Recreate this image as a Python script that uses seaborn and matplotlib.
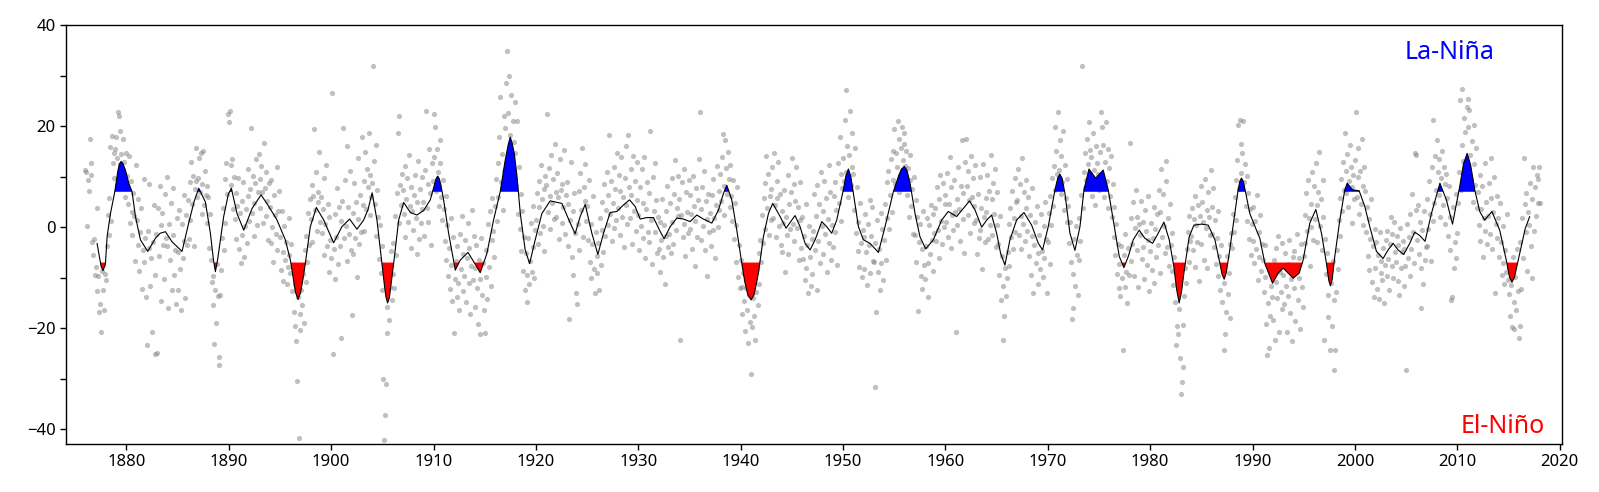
import numpy as np
import pandas as pd
import matplotlib
matplotlib.use('Agg')
import matplotlib.pyplot as plt
import seaborn as sns
from matplotlib.ticker import MultipleLocator

sns.set_style('ticks')
plt.rcParams['font.family'] = ['Noto Sans', 'DejaVu Sans']

# ---------------- data ----------------
START_YEAR = 1876          # monthly values start January 1876
THRESHOLD = 7

soi_1876_1889 = [
    11.3, 11.0, 0.2, 9.3, 7.2, 17.4, 12.6, 10.4, -3.0, -5.6, -2.4, -9.5,
    -7.8, 3.7, -12.6, -9.6, -16.8, -15.2, -20.8, -8.7, -12.4, -7.5, -16.3, -9.2,
    -10.5, -3.8, 2.5, -1.5, 5.8, 15.9, 1.2, 18.0, 12.6, 14.6, 9.8, 15.4,
    17.8, 13.6, 22.7, 21.9, 19.0, 12.5, 14.4, 8.2, 17.5, 12.8, 5.9, 14.6,
    7.8, 10.2, 4.5, 14.0, 0.9, 9.1, 3.0, -1.5, 6.8, 2.2, -6.7, 12.3,
    1.4, -3.5, 5.5, -8.7, -1.0, 3.8, -12.3, -4.6, 9.6, -6.9, -2.2, -13.8,
    -23.4, -0.8, -4.2, 8.6, -11.6, -6.2, -20.8, -2.9, 4.4, -25.0, -9.5, -1.3,
    -24.8, 3.7, -5.8, 8.1, 0.4, -14.7, 2.9, -3.6, -10.2, 6.5, -2.1, 9.9,
    -3.8, -16.0, 0.6, -6.4, 4.8, -12.4, -1.5, 7.8, -9.4, -4.6, -15.2, 1.9,
    -12.5, -4.9, 3.4, -8.2, -16.3, 0.7, -6.1, 6.3, -2.8, -14.0, 2.5, -3.6,
    5.3, -2.4, 8.9, 1.4, 12.8, 4.6, 10.1, -3.8, 7.5, 15.7, 9.2, 6.0,
    9.8, 13.7, 7.0, 14.6, 2.7, 8.5, 15.0, 4.4, 11.2, 6.3, 0.8, 8.1,
    5.9, -4.2, 2.6, -6.5, -10.8, -15.5, -9.7, -23.1, -12.4, -18.9, -7.3, -13.6,
    -25.6, -27.3, -13.5, -8.4, -2.1, 3.8, -4.6, 9.5, 0.9, 12.7, 6.5, 22.3,
]
soi_1890s = [
    20.9, 23.0, 12.2, 8.4, 13.5, 3.5, 10.0, 1.6, 6.8, -2.4, 4.2, 9.7,
    -4.3, 2.8, -7.0, 5.1, -1.6, 8.9, -5.9, 0.2, 3.6, -3.1, 11.5, 6.2,
    1.2, 7.5, 19.7, 2.9, 10.2, 4.8, -1.8, 8.7, 13.5, 0.5, 6.9, 14.5,
    9.6, 3.8, 12.1, 6.9, 0.8, 16.6, 7.7, 2.3, 11.0, 5.1, -2.5, 8.8,
    4.0, -3.2, 9.3, 0.1, -6.8, 6.4, 2.5, -1.4, 12.0, -4.6, 3.1, 7.2,
    -1.9, -8.4, 3.2, -4.9, -10.6, 0.3, -6.5, -3.0, -11.2, -7.8, 1.8, -5.5,
    -9.1, -3.3, -12.6, -7.4, -16.8, -11.2, -19.6, -22.5, -30.4, -13.8, -41.8, -17.1,
    -20.3, -12.5, -15.4, -9.3, -19.0, -4.6, -10.8, -1.7, -6.9, 2.8, -3.5, 5.5,
    1.6, 8.3, -2.9, 6.2, 19.4, 3.3, 11.0, -0.8, 7.0, 4.9, 14.8, 1.1,
    6.0, -1.2, 3.5, 9.8, -5.6, 0.7, 12.3, -3.7, 4.5, -8.9, 2.0, -2.6,
]
soi_1900s = [
    -6.1, 26.5, -25.0, -4.3, 2.6, -10.2, -1.9, 7.7, -7.2, 4.0, -3.8, 1.3,
    -22.0, 5.2, 19.7, -2.1, 9.4, 0.3, -6.7, 16.1, 3.9, -1.4, 11.2, -4.5,
    -17.4, 2.8, -5.3, 8.7, -2.2, 5.0, -9.8, 1.6, 13.7, -3.4, 6.4, -1.0,
    17.9, 4.3, 9.1, -0.7, 14.8, 3.6, 11.5, 7.9, 18.6, 2.4, 10.3, 6.0,
    8.8, 31.9, 13.1, 4.5, 16.2, -1.8, 7.4, 2.0, -6.3, 0.4, -9.1, -3.7,
    -12.5, -30.0, -42.2, -37.2, -31.0, -20.9, -15.8, -8.6, -18.3, -11.9, -4.7, -14.4,
    -9.2, -3.1, -12.0, 2.2, -5.6, 6.8, 18.6, 0.9, 22.0, 8.3, 4.4, 10.5,
    7.3, 2.6, 12.1, -1.9, 5.5, 9.8, 1.0, 14.3, 4.1, -4.2, 8.0, 3.2,
    -0.5, 6.3, 10.4, 1.8, -5.4, 4.9, 13.0, -2.3, 7.6, 0.8, 9.9, 3.5,
    5.0, -1.7, 11.3, 23.0, 3.8, 8.6, 1.1, 15.4, 6.7, -3.5, 12.7, 9.2,
]
soi_1910s = [
    13.8, 22.3, 19.8, 7.1, 15.5, 10.9, 4.2, 12.6, 17.3, 6.0, 1.4, 9.4,
    3.6, -2.8, 6.1, -6.4, 0.5, -9.7, -4.1, -12.3, 1.9, -7.5, -14.6, -2.0,
    -20.9, -10.2, -6.6, -13.8, -3.7, -11.1, -16.4, -1.4, -8.2, 2.3, -12.7, -5.4,
    -9.6, -2.5, -14.8, -6.1, 0.9, -11.0, -4.2, -17.2, -7.7, 3.4, -10.4, -1.8,
    -8.0, -15.7, -3.6, -12.0, -19.1, -6.4, -10.3, -21.2, -2.2, -13.5, -7.1, -16.3,
    -21.0, -9.9, -4.5, -14.2, 0.6, -7.8, 3.2, -11.6, -2.6, 5.7, -0.8, -5.9,
    4.1, 9.6, 1.3, 12.7, 6.0, 17.8, 25.7, 8.9, 14.5, 3.3, 11.2, 21.9,
    19.6, 28.5, 34.9, 22.6, 15.3, 30.0, 18.2, 26.1, 13.4, 21.0, 16.9, 24.8,
    14.6, 8.1, 21.0, 2.7, 11.9, -0.3, 6.5, -4.8, 3.1, -8.6, -1.9, -12.4,
    -5.1, -14.9, -9.4, -2.2, -11.3, -6.7, 0.8, -8.8, -3.9, 4.1, -10.1, -0.6,
]
soi_1920s = [
    1.4, 6.8, -3.4, 9.2, 3.9, -1.1, 12.3, 5.5, 0.2, 7.6, -4.8, 10.1,
    8.4, 22.3, 3.0, 11.7, 6.1, -0.4, 14.2, 4.7, 9.5, 1.6, 16.5, 7.0,
    2.1, 10.8, 5.9, -2.4, 13.4, 7.3, 0.9, 8.5, 4.0, 15.2, -1.3, 6.4,
    9.0, -3.8, 4.6, -18.2, 1.5, 12.9, -6.0, 3.1, -9.4, 6.7, -1.2, -13.1,
    -15.2, 0.7, 7.1, -4.5, 10.8, 3.4, 15.6, -1.9, 8.0, 5.2, 12.4, 1.3,
    4.2, -2.6, 9.3, -6.8, 0.6, -10.1, -3.4, 6.1, -8.2, -13.0, -0.9, -5.7,
    -9.0, -3.2, -12.5, 1.9, -7.4, -0.6, 5.0, -4.9, 8.6, -1.8, 3.3, 10.9,
    6.3, 0.4, 18.2, 2.6, 9.1, -2.8, 4.7, 12.0, -0.2, 7.5, 1.4, 14.6,
    3.8, 10.4, -1.5, 7.2, 13.9, 2.1, 5.9, -4.0, 9.7, 16.1, 4.4, 0.6,
    18.2, 8.0, 1.9, 11.5, 6.4, -3.3, 14.0, 3.1, 9.2, -0.7, 12.8, 5.3,
]
soi_1930s = [
    2.4, -4.6, 7.9, 0.3, 11.6, -2.1, 4.8, 13.8, -6.2, 3.6, 9.0, -1.0,
    6.8, -3.0, 19.0, 1.5, -7.3, 9.9, 3.2, -0.9, 12.7, 5.4, -5.1, 2.0,
    -4.4, 1.1, -8.9, -2.6, 5.5, -6.0, 0.4, -11.2, 3.2, -1.7, 8.1, -3.9,
    -1.3, 4.7, -5.2, 9.8, 1.0, -3.4, 6.5, 13.2, -0.5, 3.8, 10.1, 2.2,
    5.5, -22.3, 2.4, 8.9, -2.0, 11.6, 0.6, -5.8, 6.9, 3.0, -1.1, 9.4,
    -0.3, 6.4, 2.7, -4.3, 10.2, 4.1, -7.7, 1.3, 7.8, -1.9, 5.3, 13.4,
    22.7, 3.6, -2.6, 8.0, 0.2, 11.2, -4.6, 5.1, 1.7, -9.6, 6.6, -0.9,
    2.9, -3.7, 6.3, -0.5, 9.5, 1.8, -6.2, 4.4, 12.1, 0.0, 7.1, 3.3,
    10.6, 5.2, 13.9, 18.4, 8.1, 2.4, 17.3, 11.7, 6.5, 14.8, 9.6, 3.9,
    12.2, 6.1, 1.2, 9.4, -2.3, 4.7, -6.9, 0.5, 8.0, -9.8, -3.6, -12.0,
]
soi_1940s = [
    -6.4, -11.8, -17.2, -9.0, -14.6, -20.5, -12.1, -16.3, -8.3, -23.0, -13.5, -18.8,
    -29.0, -19.8, -14.1, -10.7, -17.6, -22.4, -12.8, -8.2, -15.5, -5.1, -11.3, -2.6,
    -6.9, 2.4, -3.1, 5.8, -0.4, 8.7, 14.0, 3.7, 10.6, -1.6, 6.2, 1.5,
    7.6, 11.9, 1.8, 14.6, 4.4, -2.0, 9.1, 5.7, 12.8, 0.3, 6.6, -3.6,
    3.2, -4.9, 0.8, 7.4, -8.8, 2.1, -1.6, 10.3, -5.3, 4.6, -0.4, 6.9,
    13.6, 0.7, 8.5, -2.8, 5.2, 11.9, -0.1, 3.9, -6.5, 9.0, 1.4, -4.2,
    2.0, -6.3, -1.7, -10.4, 4.5, -8.0, -3.5, -13.1, 0.2, -5.9, -11.6, -2.4,
    -9.2, -0.8, 6.6, -4.6, 2.3, -12.5, 8.4, -2.7, 4.5, -7.1, 11.0, 0.3,
    3.1, -5.3, 9.2, -1.4, 5.7, -8.9, 1.6, 12.3, -3.2, 7.0, -6.4, 0.4,
    -4.0, 6.2, -1.0, 9.0, 3.4, -7.5, 12.7, 4.8, 17.9, 1.2, 10.5, 7.8,
]
soi_1950s = [
    13.6, 9.2, 21.3, 27.1, 11.0, 16.0, 5.9, 14.3, 23.0, 8.4, 18.7, 12.0,
    10.5, 3.4, 15.6, -1.2, 7.9, -4.8, 1.0, -7.9, 4.8, -3.1, -9.8, -0.5,
    -2.0, -8.2, 2.6, -5.0, -11.4, 0.7, -3.5, 5.3, -9.1, -1.8, 4.0, -6.6,
    -6.9, -31.7, -3.2, -16.8, 1.4, -8.8, -4.4, -12.5, 2.9, -7.0, -0.3, -10.5,
    -2.6, 4.6, -6.5, 8.9, 1.8, 11.2, -0.4, 6.3, 13.5, 3.0, 9.4, 15.0,
    19.4, 8.6, 14.7, 12.0, 21.0, 6.9, 17.5, 10.4, 15.7, 19.8, 13.3, 16.4,
    18.6, 12.1, 15.0, 6.4, 11.8, 2.0, 9.3, 14.2, 4.1, 7.6, -1.3, 10.0,
    -1.5, 5.3, -6.8, 2.0, -16.6, -3.0, 0.6, -9.7, -4.3, -12.2, 3.2, -7.5,
    -10.3, -3.8, 1.9, -7.0, -13.9, 0.5, -5.4, 4.4, -2.5, -8.6, 2.7, -1.1,
    3.7, -2.8, 7.9, -0.5, 5.5, -6.1, 10.4, 1.2, -3.4, 8.8, 0.0, 4.6,
]
soi_1960s = [
    6.3, 1.0, 10.7, -1.9, 4.6, 13.8, -4.2, 7.9, 2.5, -0.6, 9.4, 3.0,
    -20.7, 5.6, 0.4, 11.9, 3.5, -2.7, 8.2, 17.3, 1.7, 6.7, -5.2, 12.9,
    17.4, 8.2, 2.4, 11.1, 5.3, -1.2, 14.0, 6.0, 9.7, 0.8, 4.2, 12.3,
    1.5, -5.4, 6.6, -2.2, 9.9, -0.6, 3.7, -8.3, 12.5, 2.0, -3.0, 5.7,
    3.0, 10.4, -2.4, 7.1, 0.4, 14.3, 5.6, -1.6, 8.8, 2.7, 11.6, -4.0,
    0.5, 6.9, -3.3, -9.4, 2.2, -14.5, -5.8, -11.6, -22.3, -17.5, -8.0, -13.6,
    -10.1, -5.0, 0.6, -7.7, 3.8, -2.0, 7.1, -4.3, 1.9, 9.7, -0.9, 4.9,
    5.3, 11.5, -1.6, 8.5, 2.3, -4.4, 13.6, 0.6, 6.9, -2.8, 3.8, 9.3,
    -0.8, 5.9, -5.8, 2.5, -9.4, -1.7, 7.8, -13.1, -3.6, 1.1, -7.0, 4.2,
    -5.2, -11.3, -1.5, -8.2, 2.6, -4.8, -9.9, 0.3, -6.1, 4.9, -2.4, -13.0,
]
soi_1970s = [
    -3.0, 2.8, -7.2, 6.1, 0.4, 9.8, 4.2, 12.1, 19.9, 7.3, 15.0, 10.6,
    22.7, 11.4, 17.3, 6.5, 14.0, 8.9, 19.0, 3.4, 12.2, 5.8, 9.6, 1.1,
    4.2, -3.1, 1.0, -6.8, -18.2, -15.9, -9.3, -2.3, -11.7, 0.2, -5.5, -13.4,
    -6.4, 1.9, -2.8, 6.3, 31.9, 3.7, 11.0, 7.8, 14.6, 9.3, 17.5, 12.4,
    20.9, 15.2, 9.8, 13.9, 6.2, 18.6, 11.3, 4.3, 16.0, 8.1, 12.6, 10.5,
    7.4, 14.8, 22.7, 19.8, 10.1, 16.3, 6.0, 12.9, 20.8, 9.2, 15.5, 3.8,
    11.7, 6.1, 14.0, 2.1, 8.6, -1.9, 4.0, -5.5, 0.6, -9.2, -3.4, -12.0,
    -7.3, -13.6, -3.7, -10.1, -24.3, -5.6, -11.9, -1.4, -8.8, -15.0, -4.2, -9.5,
    16.6, -6.7, 1.8, -3.4, 4.9, -9.6, -0.2, 7.4, -4.6, 2.1, -11.8, 0.7,
    -1.5, 5.1, -6.3, 1.0, -3.9, -10.2, 3.3, -0.8, -7.4, 6.2, -2.6, -12.6,
]
soi_1980s = [
    -4.7, 0.9, -8.5, -2.1, 4.0, -11.0, -0.3, -6.0, 2.7, -3.5, 7.3, -9.1,
    3.0, 11.5, -2.0, 6.6, 0.2, -5.1, 9.2, 13.0, -3.9, 1.9, -7.6, 4.6,
    -3.6, -8.7, -1.2, -11.4, -6.0, -14.9, -23.3, -19.5, -10.0, -21.1, -16.2, -25.8,
    -33.0, -30.6, -27.6, -19.3, -13.6, -8.0, -11.1, -4.3, -0.9, -6.9, 2.3, -2.7,
    -1.8, 3.8, -4.6, 1.6, -7.9, 6.2, 0.5, -2.9, 4.3, -10.6, 2.2, 8.1,
    -3.3, 5.0, 1.1, -6.4, 9.6, -0.2, 3.4, -8.1, 6.9, 2.1, -1.5, 11.4,
    4.0, -1.3, 7.8, -4.0, 1.4, -7.3, -2.2, -9.7, 3.1, -5.8, -12.4, -3.6,
    -14.9, -7.5, -24.3, -11.1, -21.2, -16.8, -5.7, -13.2, -9.0, -3.3, -18.0, -1.1,
    -4.2, 2.7, -0.9, 6.0, 1.5, 9.4, 13.2, 20.3, 7.6, 21.3, 16.4, 10.8,
    14.7, 21.0, 8.9, 12.4, 4.2, 10.1, 1.3, 6.8, -2.4, 3.5, -5.6, 0.7,
]
soi_1990s = [
    -2.8, 3.9, -7.1, 1.2, -4.3, 6.4, -10.5, -1.0, -5.9, 2.5, -8.6, -3.3,
    -6.4, -12.8, -3.6, -9.9, -19.1, -25.3, -15.0, -24.0, -8.1, -17.5, -11.6, -13.9,
    -18.3, -6.5, -22.4, -10.8, -4.2, -14.0, -1.7, -20.8, -8.8, -12.9, -3.1, -16.1,
    -9.5, -15.3, -5.2, -11.7, -20.8, -7.2, -13.6, -2.5, -17.0, -10.3, -22.6, -6.0,
    -12.1, -4.7, -18.6, -8.3, -1.4, -14.4, -10.0, -6.2, -20.1, -3.3, -11.8, -15.7,
    -5.8, 2.4, -3.1, 6.7, -0.7, 9.3, 1.9, -7.6, 4.6, 0.1, 11.0, -2.5,
    8.1, 1.6, 12.6, 4.3, -2.9, 7.0, 14.8, 0.3, 5.5, -4.6, 9.4, 2.0,
    -22.3, -2.4, -9.2, -5.1, -13.4, -17.8, -8.0, -24.3, -11.0, -19.6, -6.7, -14.5,
    -28.2, -24.3, -12.9, -4.6, -8.3, 1.5, -1.7, 5.8, 9.6, 3.1, 12.9, 7.3,
    18.6, 11.2, 6.7, 14.5, 3.9, 9.1, 16.3, 12.0, 0.9, 7.9, 10.4, 5.6,
]
soi_2000s = [
    13.3, 22.7, 6.0, 9.9, 15.6, 2.7, 11.1, 4.6, 17.4, 8.2, 0.4, 12.0,
    7.2, -1.0, 3.9, -5.7, 1.6, -8.4, -2.3, 5.5, -10.9, -3.7, -13.8, -0.4,
    -8.1, -2.9, -12.2, -5.6, -14.3, -1.0, -9.0, -6.7, -10.5, -4.1, -15.1, -7.4,
    -2.5, -9.6, -0.8, -6.3, -12.4, -3.4, 2.0, -7.7, -1.3, -10.0, 1.1, -4.9,
    -6.8, -1.7, -10.6, -3.5, -13.4, -0.2, -8.1, -5.0, -2.7, -11.7, -4.4, -7.6,
    -28.3, 0.7, -6.1, -2.0, -9.7, 2.6, -4.3, 6.5, -0.9, -7.0, 14.7, 3.3,
    14.2, -2.6, 4.4, -5.4, 1.0, -15.9, -8.0, -0.5, -11.2, 3.2, -6.5, -3.9,
    -3.7, 5.6, -0.3, 9.2, 2.6, -6.7, 11.9, 1.3, 21.3, 4.7, 14.0, 7.4,
    17.2, 11.0, 6.3, 13.4, 2.1, 9.8, 15.1, 4.4, 12.0, 8.5, 0.6, 10.6,
    5.8, -1.7, 8.2, 2.1, -4.6, -14.4, -13.8, 3.9, -8.0, -2.9, 6.6, -6.2,
]
soi_2010_2018 = [
    -1.2, 4.7, 10.9, 25.2, 7.4, 16.3, 27.3, 13.1, 21.5, 18.8, 11.6, 23.8,
    25.4, 19.8, 23.1, 14.2, 9.5, 17.0, 5.0, 12.5, 20.2, 8.3, 15.6, 3.7,
    6.9, 0.5, 10.4, -2.8, 3.6, 8.1, -6.0, 1.8, 12.7, -0.8, 4.9, -3.4,
    2.2, 8.8, -1.4, 5.7, 13.6, -4.4, 3.0, 9.9, -13.1, 0.6, 6.1, -2.1,
    1.8, -5.9, 4.7, -3.0, -9.4, 0.2, -7.1, -11.2, -4.6, -8.8, 2.6, -10.5,
    -13.2, -8.1, -17.5, -11.4, -19.7, -6.0, -14.9, -20.1, -9.8, -16.3, -4.4, -12.6,
    -21.9, -19.6, -2.9, -12.3, 1.9, -6.2, 13.6, 4.5, -1.0, 6.8, -8.7, 3.0,
    0.4, 8.7, -3.8, -10.0, 5.6, 12.0, -0.7, 7.9, 2.3, 10.3, 4.8, 9.5,
    12.0, 4.8,
]

# smoothed (low-pass) curve
smooth_years = [
    1877.13, 1877.53, 1877.72, 1877.95, 1878.11, 1878.44, 1878.86, 1879.15, 1879.3, 1879.48,
    1879.65, 1879.9, 1880.23, 1880.55, 1880.88, 1881.37, 1882.08, 1882.83, 1883.3, 1883.81,
    1884.46, 1885.43, 1886.08, 1886.6, 1887.06, 1887.71, 1888.2, 1888.5, 1888.69, 1888.9,
    1889.5, 1889.95, 1890.25, 1890.8, 1891.46, 1892.27, 1893.15, 1893.9, 1894.71, 1895.52,
    1896.01, 1896.25, 1896.5, 1896.76, 1897.0, 1897.25, 1897.48, 1897.96, 1898.55, 1899.27,
    1900.24, 1901.05, 1901.8, 1902.52, 1903.17, 1903.6, 1904.0, 1904.47, 1904.96, 1905.2,
    1905.35, 1905.51, 1905.68, 1905.9, 1906.1, 1906.59, 1907.08, 1907.73, 1908.38, 1909.03,
    1909.68, 1910.1, 1910.25, 1910.4, 1910.55, 1910.7, 1910.98, 1911.47, 1912.12, 1912.61,
    1913.36, 1913.91, 1914.56, 1915.21, 1915.86, 1916.51, 1917.0, 1917.3, 1917.49, 1917.68,
    1917.88, 1918.14, 1918.47, 1918.95, 1919.38, 1919.93, 1920.58, 1921.39, 1922.53, 1923.35,
    1923.83, 1924.32, 1924.81, 1925.46, 1926.05, 1926.6, 1927.25, 1927.9, 1928.55, 1929.14,
    1929.69, 1930.18, 1930.83, 1931.48, 1932.07, 1932.52, 1933.11, 1933.76, 1934.41, 1935.06,
    1935.71, 1936.36, 1937.18, 1937.83, 1938.32, 1938.64, 1939.13, 1939.62, 1940.11, 1940.4,
    1940.7, 1941.02, 1941.3, 1941.55, 1941.73, 1942.22, 1942.71, 1943.13, 1943.85, 1944.43,
    1944.99, 1945.31, 1945.8, 1946.29, 1946.78, 1947.27, 1947.92, 1948.4, 1948.89, 1949.38,
    1950.03, 1950.28, 1950.52, 1950.76, 1951.01, 1951.5, 1951.98, 1952.63, 1953.45, 1954.1,
    1954.91, 1955.4, 1955.7, 1955.99, 1956.25, 1956.54, 1957.03, 1957.51, 1958.07, 1958.82,
    1959.63, 1960.28, 1961.09, 1961.75, 1962.35, 1962.89, 1963.54, 1964.03, 1964.51, 1965.0,
    1965.39, 1965.81, 1966.3, 1966.95, 1967.67, 1968.42, 1969.07, 1969.49, 1970.04, 1970.7,
    1970.98, 1971.18, 1971.4, 1971.67, 1972.16, 1972.65, 1973.14, 1973.53, 1974.02, 1974.67,
    1975.41, 1975.9, 1976.39, 1976.98, 1977.43, 1977.86, 1978.34, 1978.93, 1979.48, 1980.23,
    1980.78, 1981.34, 1981.86, 1982.31, 1982.58, 1982.83, 1983.06, 1983.29, 1983.81, 1984.27,
    1985.01, 1985.67, 1986.32, 1986.74, 1987.03, 1987.23, 1987.43, 1987.72, 1988.17, 1988.59,
    1988.76, 1988.92, 1989.1, 1989.34, 1989.73, 1990.38, 1990.71, 1991.2, 1991.95, 1992.5,
    1992.99, 1993.96, 1994.55, 1994.94, 1995.59, 1996.18, 1996.73, 1997.22, 1997.45, 1997.61,
    1997.78, 1998.03, 1998.52, 1999.01, 1999.24, 1999.76, 2000.41, 2000.96, 2001.45, 2002.1,
    2002.75, 2003.24, 2003.73, 2004.21, 2004.77, 2005.35, 2005.84, 2006.3, 2006.85, 2007.47,
    2008.3, 2008.93, 2009.53, 2010.23, 2010.6, 2010.96, 2011.3, 2011.7, 2012.19, 2012.67,
    2013.38, 2014.14, 2014.79, 2015.1, 2015.34, 2015.58, 2016.09, 2016.63, 2017.07,
]
smooth_values = [
    -3.2, -7.8, -8.6, -7.2, -1.9, 2.7, 7.0, 11.0, 12.4, 13.0,
    12.6, 11.3, 8.7, 7.0, 2.1, -2.5, -4.8, -2.2, -1.2, -0.9,
    -2.9, -4.8, 0.8, 5.0, 7.7, 5.0, -1.2, -6.5, -8.8, -6.5,
    2.1, 6.5, 7.7, 2.7, -0.6, 3.7, 6.4, 4.1, 1.4, -2.5,
    -6.5, -9.5, -12.8, -14.3, -13.0, -10.2, -7.1, 0.1, 3.9, 1.4,
    -3.1, 0.1, 1.6, -0.4, 1.4, 3.5, 6.8, 1.4, -7.2, -11.5,
    -13.8, -15.0, -14.0, -10.5, -7.2, 1.4, 4.9, 2.9, 2.4, 3.3,
    5.4, 8.5, 9.6, 10.1, 9.6, 8.5, 5.4, -1.2, -8.5, -6.5,
    -5.0, -6.8, -9.0, -5.2, 1.4, 7.0, 13.3, 16.4, 17.8, 16.6,
    14.6, 10.3, 2.7, -4.5, -7.2, -2.5, 2.7, 5.2, 4.7, 0.8,
    -1.3, 2.1, 4.5, -1.2, -5.4, -1.2, 2.9, 3.1, 4.4, 5.4,
    4.1, 1.6, 1.9, 1.9, -0.6, -2.3, 0.1, 1.8, 1.6, 1.1,
    2.4, 1.6, 0.8, 3.4, 6.7, 8.3, 5.4, -0.6, -7.2, -10.8,
    -13.4, -14.4, -13.4, -11.0, -9.1, -1.9, 2.7, 4.7, 2.1, -0.2,
    1.4, 2.3, 0.1, -3.2, -4.5, -2.5, 1.1, 0.1, -1.2, 1.4,
    7.4, 10.2, 11.5, 10.0, 6.7, 0.1, -2.5, -3.2, -5.0, 0.1,
    7.0, 10.0, 11.5, 12.0, 11.2, 8.7, 2.7, -1.9, -4.3, -2.5,
    1.4, 3.1, 2.1, 3.7, 5.2, 3.4, 0.0, 1.4, 2.4, -1.2,
    -5.2, -7.5, -2.5, 1.4, 2.9, 0.4, -3.2, -4.5, 0.1, 7.4,
    9.8, 10.5, 9.6, 6.7, -1.2, -4.6, 0.1, 7.4, 11.5, 9.7,
    11.3, 7.4, 1.4, -5.8, -8.0, -5.8, -2.5, -0.6, -2.2, -3.2,
    -1.2, 1.0, -2.5, -7.8, -12.3, -15.0, -12.8, -9.1, -1.9, 0.4,
    0.6, 0.4, -2.5, -6.5, -9.4, -10.3, -9.0, -5.2, 1.4, 7.4,
    9.1, 9.7, 9.0, 6.7, 2.7, -0.6, -2.2, -7.2, -11.1, -9.1,
    -8.1, -10.1, -9.1, -6.5, 0.8, 3.5, -1.2, -7.2, -10.6, -11.6,
    -10.3, -5.8, 1.4, 7.4, 8.7, 7.4, 7.2, 4.1, 0.1, -4.8,
    -6.2, -4.5, -3.2, -4.5, -5.4, -3.2, -1.0, -1.6, -2.8, 2.7,
    8.7, 5.4, 0.6, 8.0, 12.5, 14.6, 12.3, 7.4, 3.1, 1.4,
    3.1, -0.6, -6.6, -9.9, -10.9, -9.9, -5.2, -0.3, 2.1,
]

# ---------------- plotting ----------------
soi = np.concatenate([soi_1876_1889, soi_1890s, soi_1900s, soi_1910s, soi_1920s,
                      soi_1930s, soi_1940s, soi_1950s, soi_1960s, soi_1970s,
                      soi_1980s, soi_1990s, soi_2000s, soi_2010_2018])
months = START_YEAR + np.arange(len(soi)) / 12.0
df = pd.DataFrame({'year': months, 'soi': soi})

sy = np.array(smooth_years)
sv = np.array(smooth_values)

fig = plt.figure(figsize=(15.99, 4.92), dpi=100)
ax = fig.add_axes([0.0413, 0.0976, 0.9354, 0.8516])

sns.scatterplot(data=df, x='year', y='soi', ax=ax, color='grey', alpha=0.5,
                s=14, linewidth=0, zorder=1)
ax.fill_between(sy, sv, THRESHOLD, where=sv >= THRESHOLD, interpolate=True,
                color='blue', lw=0, zorder=2)
ax.fill_between(sy, sv, -THRESHOLD, where=sv <= -THRESHOLD, interpolate=True,
                color='red', lw=0, zorder=2)
sns.lineplot(x=sy, y=sv, ax=ax, color='black', lw=0.8, sort=False,
             estimator=None, zorder=3, solid_joinstyle='round')

ax.set_xlim(1874.1, 2020.2)
ax.set_ylim(-42.9, 40)
ax.xaxis.set_major_locator(MultipleLocator(10))
ax.yaxis.set_major_locator(MultipleLocator(20))
ax.yaxis.set_minor_locator(MultipleLocator(10))
ax.set_xlabel('')
ax.set_ylabel('')
ax.tick_params(axis='both', which='both', labelsize=12, length=4, width=1,
               color='black', labelcolor='black', direction='out')
for sp in ax.spines.values():
    sp.set_visible(True)
    sp.set_color('black')
    sp.set_linewidth(1.0)

ax.text(2004.9, 33.2, 'La-Niña', color='blue', fontsize=18, ha='left', va='baseline')
ax.text(2010.3, -40.8, 'El-Niño', color='red', fontsize=18, ha='left', va='baseline')

fig.savefig('out.png', dpi=100)
